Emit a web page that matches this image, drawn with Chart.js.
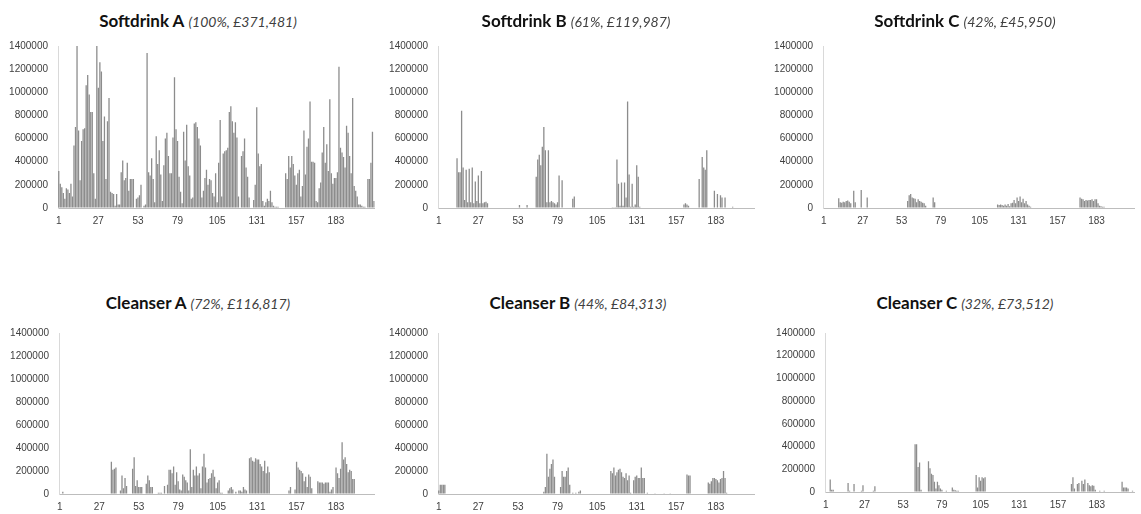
<!DOCTYPE html>
<html>
<head>
<meta charset="utf-8">
<script src="https://cdn.jsdelivr.net/npm/chart.js@4/dist/chart.umd.min.js"></script>
<style>
  html, body { margin: 0; padding: 0; background: #ffffff; }
  body { width: 1141px; height: 514px; position: relative; overflow: hidden; }
  canvas { position: absolute; }
  .ttl { position: absolute; width: 400px; text-align: center; line-height: 24px; white-space: nowrap; }
  .ttl b { font-family: Lato, "Liberation Sans", sans-serif; font-weight: 700; font-size: 17px; color: #111; }
  .ttl i { font-family: Lato, "Liberation Sans", sans-serif; font-style: italic; font-size: 14px; color: #404040; }
</style>
</head>
<body>
<script>
// ---------- DATA ----------
const categories = Array.from({ length: 208 }, (_, i) => String(i + 1));
const xTickLabels = ['1', '27', '53', '79', '105', '131', '157', '183'];
const yTickValues = [0, 200000, 400000, 600000, 800000, 1000000, 1200000, 1400000];

const chartNames = ['Softdrink A', 'Softdrink B', 'Softdrink C', 'Cleanser A', 'Cleanser B', 'Cleanser C'];
const chartNotes = ['(100%, £371,481)', '(61%, £119,987)', '(42%, £45,950)', '(72%, £116,817)', '(44%, £84,313)', '(32%, £73,512)'];

const softdrinkA = [
  320000,210000,180000,130000,80000,170000,160000,130000,210000,100000,
  540000,700000,1400000,670000,240000,580000,680000,690000,1060000,1150000,
  980000,830000,830000,300000,80000,1400000,1040000,1260000,1180000,580000,
  790000,250000,750000,950000,140000,130000,120000,20000,120000,30000,
  30000,310000,410000,240000,260000,390000,150000,250000,250000,250000,
  0,80000,90000,110000,200000,0,20000,30000,1340000,310000,
  280000,430000,250000,50000,620000,380000,500000,290000,60000,370000,
  600000,650000,450000,300000,300000,610000,1130000,680000,580000,270000,
  140000,40000,660000,410000,720000,360000,280000,80000,90000,730000,
  740000,700000,600000,540000,90000,150000,260000,330000,200000,250000,
  240000,130000,100000,300000,50000,390000,760000,100000,470000,490000,
  500000,520000,830000,880000,750000,650000,740000,610000,100000,0,
  450000,490000,600000,350000,270000,90000,0,0,70000,200000,
  870000,470000,360000,380000,60000,20000,50000,80000,60000,150000,
  50000,20000,10000,10000,10000,5000,5000,0,0,300000,
  250000,450000,350000,450000,380000,280000,200000,300000,330000,100000,
  190000,670000,290000,530000,600000,920000,400000,400000,390000,60000,
  50000,170000,220000,480000,700000,390000,550000,320000,940000,300000,
  210000,260000,260000,310000,1220000,520000,480000,440000,350000,710000,
  650000,450000,300000,950000,190000,150000,100000,30000,30000,20000,
  10000,10000,0,250000,250000,390000,660000,60000
];

const softdrinkB = [
  0,0,0,0,0,5000,5000,5000,5000,5000,
  5000,0,430000,310000,310000,840000,350000,70000,330000,50000,
  340000,50000,350000,40000,230000,60000,280000,40000,320000,40000,
  50000,55000,40000,0,5000,0,0,0,0,0,
  0,5000,0,0,0,0,0,0,0,0,
  0,0,0,25000,0,0,0,0,25000,5000,
  5000,5000,5000,0,270000,420000,460000,370000,530000,700000,
  500000,50000,500000,50000,60000,50000,40000,30000,50000,280000,
  0,240000,0,0,0,0,0,0,80000,100000,
  0,0,0,0,0,0,0,0,0,0,
  0,0,0,0,0,0,0,0,0,0,
  0,0,0,0,3000,3000,3000,420000,210000,20000,
  220000,20000,220000,90000,920000,290000,10000,210000,10000,30000,
  370000,270000,10000,0,0,0,0,0,0,5000,
  0,0,0,5000,0,0,0,0,0,0,
  0,0,0,0,0,0,0,0,0,0,
  0,30000,40000,30000,20000,0,0,0,0,0,
  0,250000,0,440000,350000,330000,500000,0,0,0,
  0,150000,0,120000,0,110000,90000,0,90000,0,
  0,0,0,10000,0,0,0,5000,0,0,
  0,0,0,0,0,0,0,0
];

const softdrinkC = [
  0,0,0,0,0,0,0,0,0,0,
  85000,50000,45000,55000,50000,60000,65000,55000,40000,0,
  150000,50000,0,0,0,155000,0,0,0,90000,
  0,0,0,0,0,0,0,0,0,0,
  0,0,0,0,0,0,0,0,0,0,
  0,0,0,0,0,0,60000,110000,120000,90000,
  85000,80000,50000,75000,60000,55000,45000,40000,20000,5000,
  5000,0,0,90000,50000,0,0,0,0,0,
  0,0,0,0,0,0,0,0,0,0,
  0,0,0,0,0,0,0,0,0,0,
  0,0,0,0,0,0,0,0,0,0,
  0,0,0,0,0,0,30000,25000,30000,25000,
  20000,30000,20000,35000,15000,40000,45000,70000,40000,90000,
  60000,100000,50000,80000,40000,60000,30000,20000,10000,0,
  0,0,0,0,0,0,0,0,0,0,
  0,0,0,0,0,0,0,0,0,0,
  0,0,0,0,0,0,0,0,0,0,
  0,90000,80000,75000,60000,70000,65000,70000,70000,75000,
  60000,75000,75000,40000,20000,15000,10000,10000,5000,0,
  0,0,0,0,0,0,0,0,0,0,
  0,0,0,0,0,0,0,0
];

const cleanserA = [
  0,0,20000,0,0,0,5000,0,0,0,
  0,0,0,0,0,0,0,0,0,0,
  5000,0,0,0,0,5000,0,0,0,0,
  0,0,0,0,280000,210000,220000,230000,0,0,
  30000,160000,50000,140000,70000,0,0,0,220000,320000,
  70000,120000,60000,60000,60000,0,0,90000,160000,120000,
  60000,60000,0,0,0,10000,10000,10000,0,70000,
  0,80000,210000,210000,180000,240000,80000,190000,110000,40000,
  30000,170000,150000,120000,100000,30000,390000,60000,210000,160000,
  240000,160000,180000,50000,240000,350000,230000,100000,130000,140000,
  180000,210000,150000,50000,100000,120000,10000,10000,0,0,
  0,30000,50000,60000,40000,0,20000,0,30000,30000,
  20000,60000,40000,30000,0,310000,320000,290000,280000,310000,
  300000,300000,260000,240000,200000,290000,180000,240000,190000,0,
  0,0,5000,0,0,0,0,0,0,0,
  0,30000,60000,0,0,40000,280000,230000,210000,200000,
  180000,110000,150000,60000,170000,150000,50000,0,0,0,
  110000,100000,100000,100000,90000,100000,100000,100000,20000,40000,
  60000,0,230000,180000,140000,220000,450000,300000,320000,260000,
  190000,210000,200000,130000,130000,0,0,0,0,0,
  0,0,0,0,0,0,0,0
];

const cleanserB = [
  30000,80000,80000,80000,80000,0,0,0,0,0,
  0,0,0,0,0,0,0,0,0,0,
  0,0,0,0,0,0,0,0,0,0,
  0,0,0,0,0,0,0,0,0,0,
  0,0,0,0,0,0,0,0,0,0,
  0,0,0,0,0,0,0,0,0,0,
  0,0,0,0,0,0,0,0,0,20000,
  60000,350000,150000,220000,260000,300000,150000,0,0,0,
  60000,200000,150000,150000,200000,230000,80000,0,10000,0,
  10000,0,20000,30000,0,0,0,0,0,0,
  0,0,0,0,0,0,0,0,0,0,
  0,0,0,200000,180000,230000,160000,190000,210000,220000,
  190000,150000,140000,180000,120000,160000,10000,0,120000,150000,
  160000,140000,140000,230000,140000,140000,0,10000,0,0,
  0,0,3000,0,0,0,0,0,3000,0,
  0,0,3000,0,0,0,0,0,0,5000,
  0,0,0,170000,160000,160000,0,0,0,0,
  0,0,0,0,0,0,0,100000,90000,110000,
  140000,140000,130000,120000,100000,130000,140000,200000,140000,10000,
  0,0,0,0,0,0,0,0,0,0,
  0,0,0,0,0,0,0,0
];

const cleanserC = [
  0,0,0,110000,20000,20000,0,0,0,0,
  0,0,0,0,0,80000,10000,0,0,70000,
  0,0,0,0,10000,60000,0,0,0,0,
  0,0,10000,50000,0,0,0,0,0,0,
  0,0,0,0,0,0,0,0,0,0,
  0,0,0,0,0,0,0,0,0,0,
  420000,420000,220000,260000,20000,0,0,0,0,270000,
  210000,160000,150000,90000,30000,90000,60000,30000,20000,5000,
  0,10000,0,0,0,40000,20000,15000,10000,10000,
  0,0,0,0,0,0,0,0,0,0,
  0,150000,40000,130000,100000,130000,120000,130000,0,0,
  0,0,0,0,0,0,0,0,0,0,
  0,0,0,0,0,0,0,0,0,0,
  0,0,0,0,0,0,0,0,0,0,
  0,0,0,0,0,0,0,0,0,0,
  0,0,0,0,0,0,0,0,0,0,
  0,0,0,0,0,70000,130000,30000,0,70000,
  80000,0,100000,70000,110000,0,80000,60000,50000,60000,
  55000,20000,0,0,10000,0,0,10000,0,0,
  5000,0,0,0,5000,0,0,0,0,90000,
  40000,40000,40000,30000,0,0,10000,0
];

const seriesList = [softdrinkA, softdrinkB, softdrinkC, cleanserA, cleanserB, cleanserC];

// ---------- LAYOUT ----------
const panels = [
  { left: 0,   top: 30,  h: 200, axis: 58, right: 375, padTop: 15, xh: 22, tc: 198, tt: 9 },
  { left: 380, top: 30,  h: 200, axis: 58, right: 375, padTop: 15, xh: 22, tc: 576, tt: 9 },
  { left: 760, top: 30,  h: 200, axis: 63, right: 380, padTop: 16, xh: 22, tc: 965, tt: 9 },
  { left: 0,   top: 317, h: 197, axis: 59, right: 375, padTop: 15, xh: 20, tc: 198, tt: 291 },
  { left: 380, top: 317, h: 197, axis: 58, right: 375, padTop: 15, xh: 20, tc: 578, tt: 291 },
  { left: 760, top: 317, h: 197, axis: 65, right: 381, padTop: 14, xh: 22, tc: 965, tt: 291 }
];
const CW = 381;

Chart.defaults.font.family = "'Liberation Sans', Arial, sans-serif";
Chart.defaults.color = '#404040';

panels.forEach((p, k) => {
  const t = document.createElement('div');
  t.className = 'ttl';
  t.style.left = (p.tc - 200) + 'px';
  t.style.top = p.tt + 'px';
  const b = document.createElement('b'); b.textContent = chartNames[k];
  const i = document.createElement('i'); i.textContent = chartNotes[k];
  t.appendChild(b); t.appendChild(document.createTextNode(' ')); t.appendChild(i);
  document.body.appendChild(t);

  const c = document.createElement('canvas');
  c.width = CW; c.height = p.h;
  c.style.left = p.left + 'px'; c.style.top = p.top + 'px';
  c.style.width = CW + 'px'; c.style.height = p.h + 'px';
  document.body.appendChild(c);

  new Chart(c.getContext('2d'), {
    type: 'bar',
    data: {
      labels: categories,
      datasets: [{
        data: seriesList[k],
        backgroundColor: '#8c8c8c',
        borderWidth: 0,
        barPercentage: 0.85,
        categoryPercentage: 1.0
      }]
    },
    options: {
      responsive: false,
      animation: false,
      devicePixelRatio: 1,
      layout: { padding: { top: p.padTop, left: 0, right: CW - p.right, bottom: 0 } },
      plugins: { legend: { display: false }, tooltip: { enabled: false }, title: { display: false } },
      scales: {
        x: {
          grid: { display: true, drawOnChartArea: false, drawTicks: false, color: 'rgba(0,0,0,0)' },
          border: { display: true, color: '#bdbdbd', width: 1 },
          ticks: {
            autoSkip: false, maxRotation: 0, minRotation: 0, padding: 7,
            font: { size: 10 }, color: '#404040',
            callback: (v, idx) => xTickLabels.includes(categories[idx]) ? categories[idx] : ''
          },
          afterFit: s => { s.height = p.xh; }
        },
        y: {
          min: 0, max: 1400000,
          grid: { display: true, drawOnChartArea: false, drawTicks: false, color: 'rgba(0,0,0,0)' },
          border: { display: true, color: '#d9d9d9', width: 1 },
          afterBuildTicks: s => { s.ticks = yTickValues.map(v => ({ value: v })); },
          ticks: {
            padding: 10, font: { size: 10 }, color: '#404040',
            callback: v => String(v)
          },
          afterFit: s => { s.width = p.axis; }
        }
      }
    }
  });
});
</script>
</body>
</html>
